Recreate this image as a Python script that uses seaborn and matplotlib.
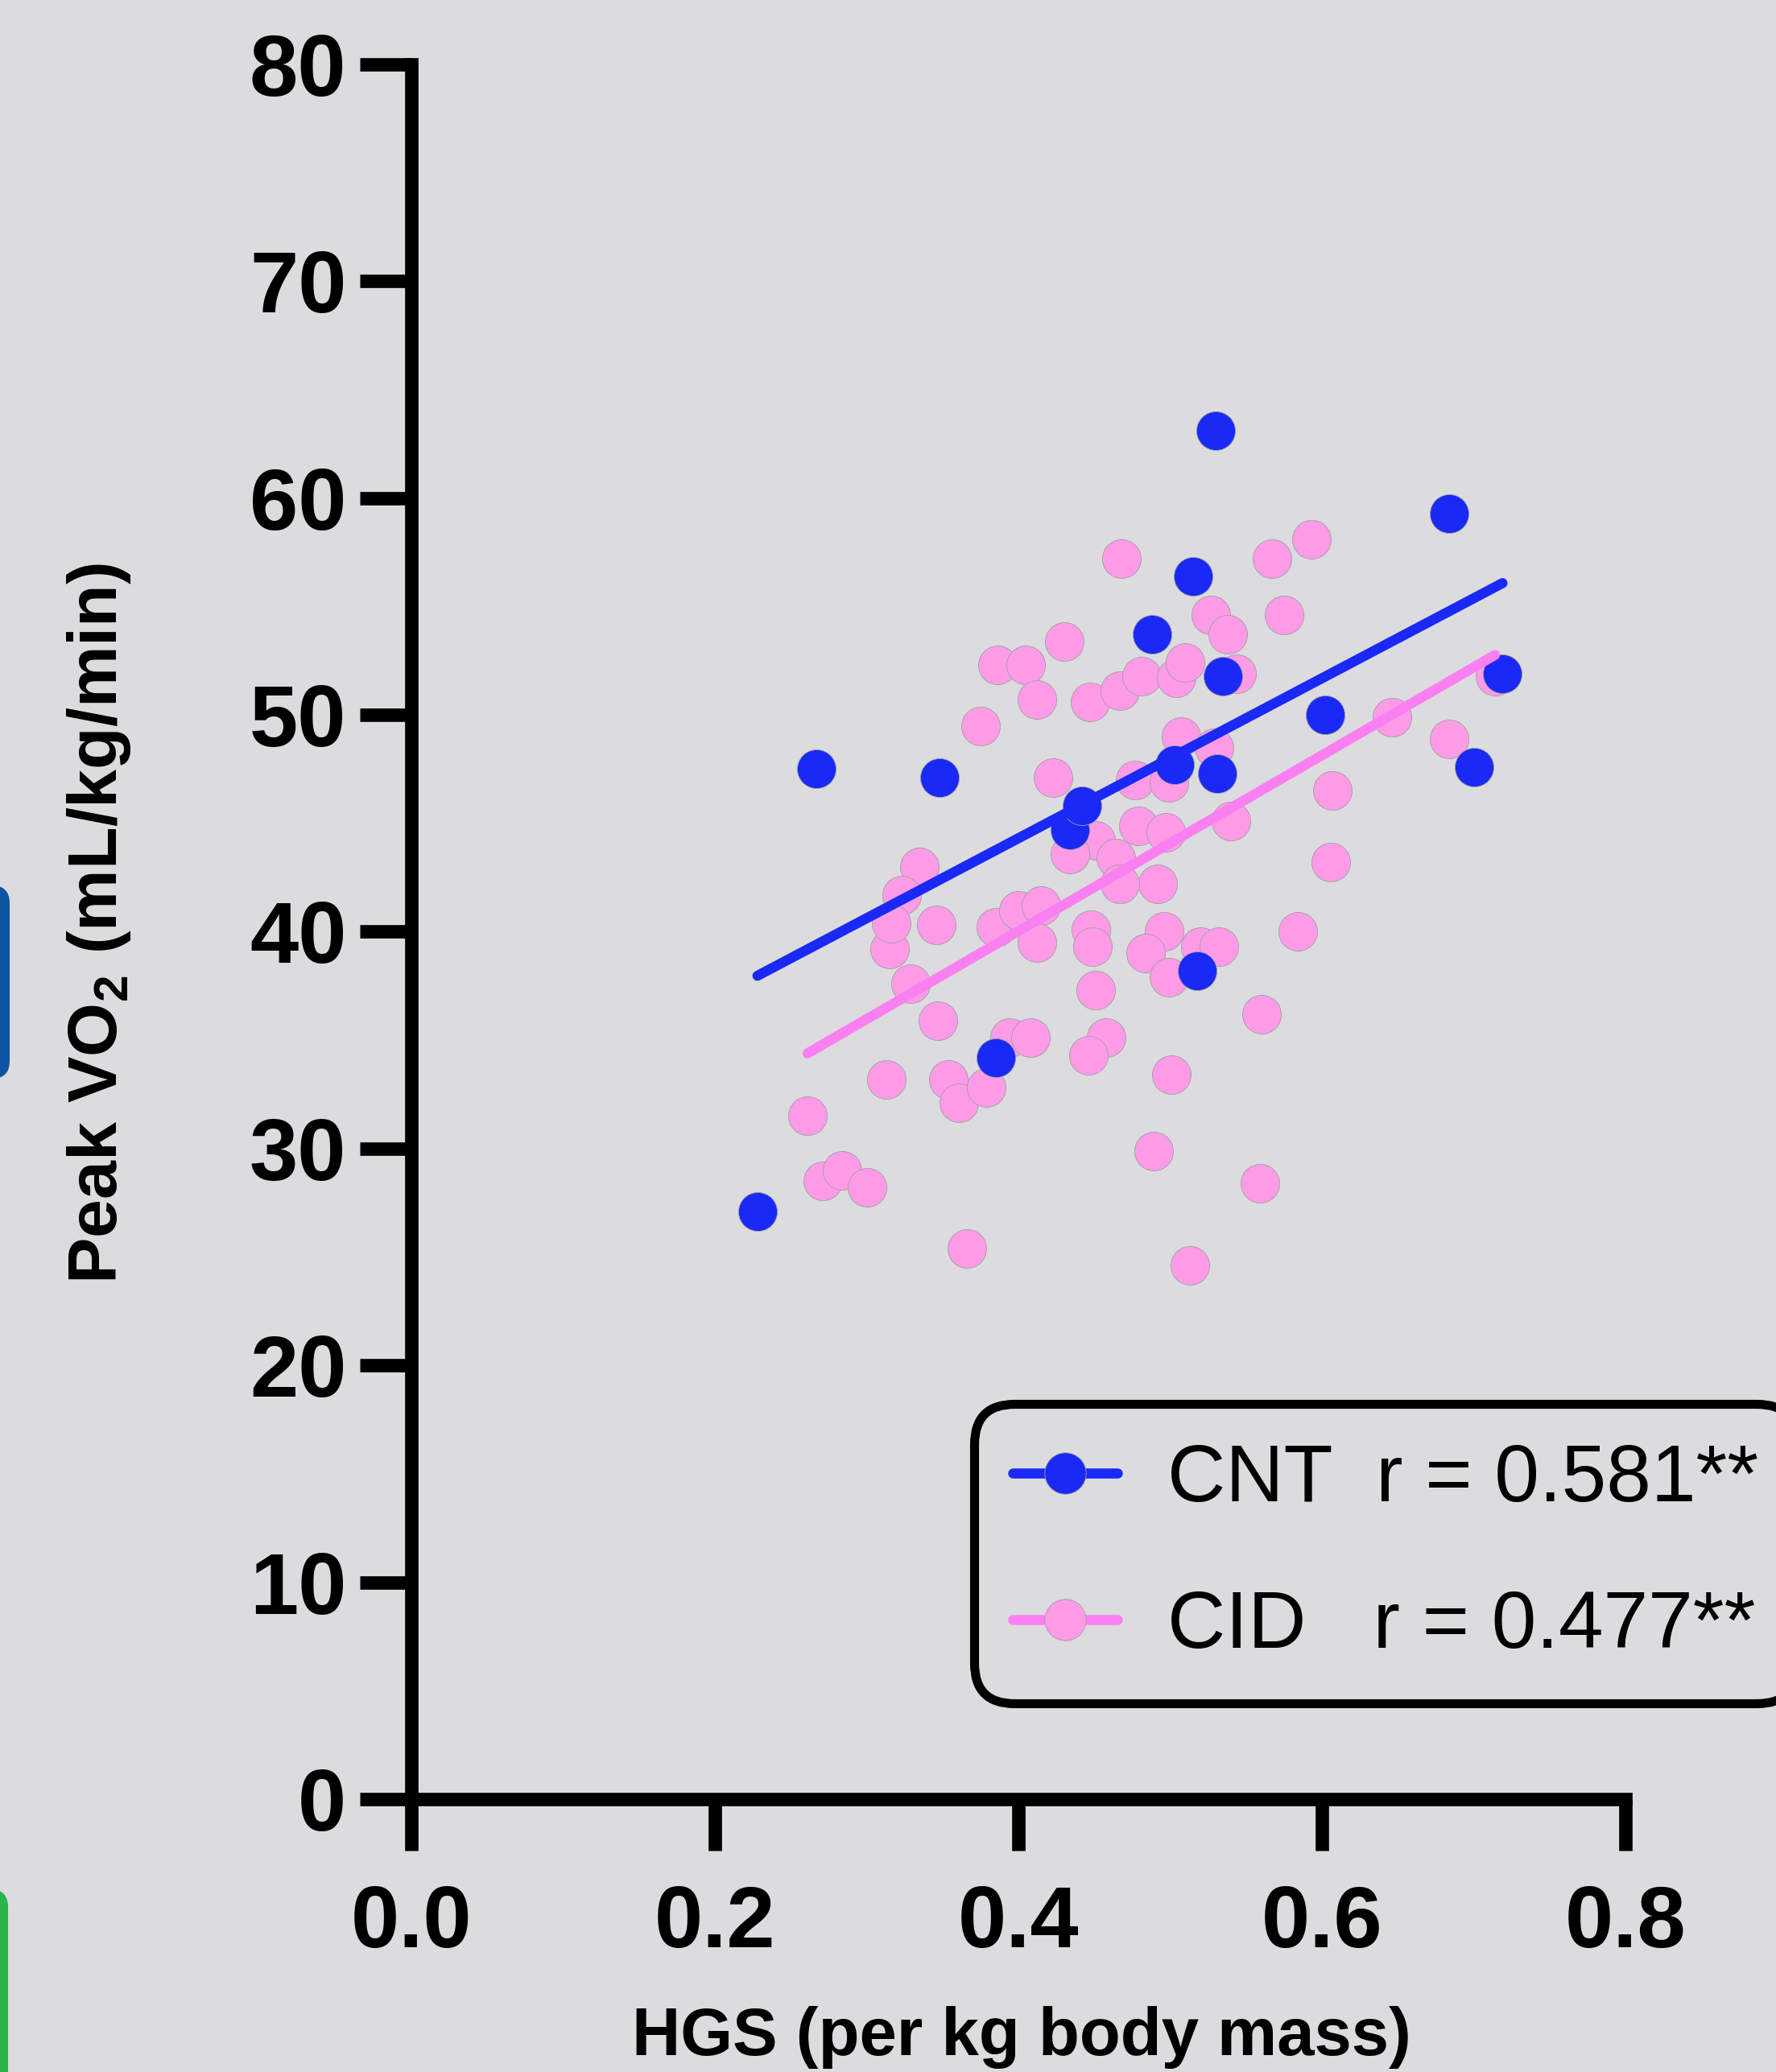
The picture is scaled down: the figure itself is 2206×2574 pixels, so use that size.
import numpy as np
import pandas as pd
import matplotlib
matplotlib.use('Agg')
import matplotlib.pyplot as plt
import seaborn as sns
from matplotlib.lines import Line2D
from matplotlib.patches import FancyBboxPatch
from matplotlib.transforms import IdentityTransform
from matplotlib import font_manager

# ---------------- data ----------------
cnt_hgs = [0.228, 0.267, 0.348, 0.385, 0.434, 0.442, 0.488, 0.503, 0.515,
           0.518, 0.530, 0.531, 0.535, 0.602, 0.684, 0.700, 0.719]
cnt_vo2 = [27.1, 47.5, 47.1, 34.2, 44.7, 45.8, 53.7, 47.7, 56.4,
           38.2, 63.1, 47.3, 51.8, 50.0, 59.3, 47.6, 51.9]

cid_hgs = [0.468, 0.430, 0.386, 0.405, 0.412, 0.375, 0.447, 0.467, 0.481, 0.504,
           0.510, 0.423, 0.477, 0.499, 0.507, 0.529, 0.567, 0.593, 0.575, 0.527,
           0.538, 0.544, 0.646, 0.684, 0.714, 0.607, 0.540, 0.479, 0.497, 0.451,
           0.434, 0.464, 0.606, 0.492, 0.467, 0.496, 0.484, 0.499, 0.520, 0.532,
           0.584, 0.560, 0.501, 0.489, 0.559, 0.513, 0.448, 0.449, 0.451, 0.458,
           0.446, 0.385, 0.400, 0.415, 0.412, 0.335, 0.323, 0.346, 0.315, 0.316,
           0.329, 0.347, 0.313, 0.354, 0.361, 0.379, 0.394, 0.408, 0.261, 0.271,
           0.284, 0.300, 0.366]
cid_vo2 = [57.2, 53.4, 52.3, 52.3, 50.7, 49.5, 50.6, 51.1, 51.8, 51.7,
           52.4, 47.1, 47.0, 46.9, 49.0, 48.5, 57.2, 58.1, 54.6, 54.6,
           53.7, 51.9, 49.9, 48.9, 51.8, 46.5, 45.1, 44.9, 44.6, 44.2,
           43.6, 43.4, 43.2, 42.2, 42.2, 40.0, 39.0, 37.9, 39.3, 39.3,
           40.0, 36.2, 33.4, 29.9, 28.4, 24.6, 40.1, 39.3, 37.3, 35.1,
           34.3, 40.2, 41.0, 41.2, 39.5, 43.0, 41.7, 40.3, 39.2, 40.4,
           37.6, 35.9, 33.2, 33.2, 32.1, 32.8, 35.1, 35.1, 31.5, 28.5,
           29.0, 28.2, 25.4]

group_names = ['CNT', 'CID']
legend_labels = ['CNT  r = 0.581**', 'CID   r = 0.477**']
x_ticks = [0.0, 0.2, 0.4, 0.6, 0.8]
x_tick_labels = ['0.0', '0.2', '0.4', '0.6', '0.8']
y_ticks = [0, 10, 20, 30, 40, 50, 60, 70, 80]
y_tick_labels = ['0', '10', '20', '30', '40', '50', '60', '70', '80']
x_label = 'HGS (per kg body mass)'
y_label = r'Peak VO$_{\mathbf{2}}$ (mL/kg/min)'

df = pd.concat([
    pd.DataFrame({'hgs': cnt_hgs, 'vo2': cnt_vo2, 'group': group_names[0]}),
    pd.DataFrame({'hgs': cid_hgs, 'vo2': cid_vo2, 'group': group_names[1]}),
], ignore_index=True)

# ---------------- style ----------------
BG = '#dcdcde'
BLUE = '#1a29f6'
PINK = '#fe9be7'
PINK_LINE = '#fa80f2'
EDGE = '#9d9da6'

sns.set_theme(style='white')
plt.rcParams['font.family'] = ['Liberation Sans', 'DejaVu Sans']
plt.rcParams['mathtext.fontset'] = 'custom'
plt.rcParams['mathtext.rm'] = 'Liberation Sans'
plt.rcParams['mathtext.bf'] = 'Liberation Sans:bold'
plt.rcParams['text.color'] = 'black'

avail = {f.name for f in font_manager.fontManager.ttflist}
if 'Liberation Sans Narrow' in avail:
    leg_family = ['Liberation Sans Narrow', 'Liberation Sans']
    leg_size = 80
else:
    leg_family = ['Liberation Sans', 'DejaVu Sans']
    leg_size = 72

W, H = 2206, 2574
fig = plt.figure(figsize=(W / 100, H / 100), dpi=100, facecolor=BG)
ax = fig.add_axes([511 / W, 1 - 2235 / H, (2019 - 511) / W, (2235 - 80) / H])
ax.set_facecolor(BG)

# ---------------- marks ----------------
sns.scatterplot(data=df[df.group == 'CID'], x='hgs', y='vo2', color=PINK, s=1200,
                edgecolor=EDGE, linewidth=0.6, zorder=2, ax=ax, legend=False)
sns.scatterplot(data=df[df.group == 'CNT'], x='hgs', y='vo2', color=BLUE, s=1200,
                edgecolor=EDGE, linewidth=0.6, zorder=3, ax=ax, legend=False)
sns.regplot(data=df[df.group == 'CNT'], x='hgs', y='vo2', scatter=False, ci=None,
            truncate=True, color=BLUE, ax=ax,
            line_kws=dict(lw=9, solid_capstyle='round', zorder=4))
sns.regplot(data=df[df.group == 'CID'], x='hgs', y='vo2', scatter=False, ci=None,
            truncate=True, color=PINK_LINE, ax=ax,
            line_kws=dict(lw=9, solid_capstyle='round', zorder=5))

# ---------------- axes ----------------
ax.set_xlim(0, 0.8)
ax.set_ylim(0, 80)
for s in ['top', 'right']:
    ax.spines[s].set_visible(False)
for s in ['left', 'bottom']:
    ax.spines[s].set_linewidth(12)
    ax.spines[s].set_color('black')
    ax.spines[s].set_capstyle('projecting')

ax.set_xticks(x_ticks, labels=x_tick_labels, fontweight='bold', fontsize=78)
ax.set_yticks(y_ticks, labels=y_tick_labels, fontweight='bold', fontsize=78)
ax.tick_params(axis='both', which='major', direction='out', length=46, width=12,
               color='black', labelcolor='black', bottom=True, left=True)
ax.tick_params(axis='x', pad=30)
ax.tick_params(axis='y', pad=12)

ax.set_xlabel(x_label, fontsize=60, fontweight='bold', color='black')
ax.xaxis.label.set_va('baseline')
ax.xaxis.set_label_coords(0.5027, -0.1475)
ax.set_ylabel(y_label, fontsize=62, fontweight='bold', color='black')
ax.yaxis.label.set_va('baseline')
ax.yaxis.set_label_coords(-0.2427, 0.505)

# ---------------- legend ----------------
handles = [
    Line2D([0], [0], color=BLUE, lw=9, solid_capstyle='round', marker='o',
           markersize=37, markerfacecolor=BLUE, markeredgecolor=EDGE, markeredgewidth=0.6),
    Line2D([0], [0], color=PINK_LINE, lw=9, solid_capstyle='round', marker='o',
           markersize=37, markerfacecolor=PINK, markeredgecolor=EDGE, markeredgewidth=0.6),
]
leg = ax.legend(handles, legend_labels, loc='upper left',
                bbox_to_anchor=(1210 / W, 1 - 1744 / H), bbox_transform=fig.transFigure,
                prop={'family': leg_family, 'size': leg_size}, labelcolor='black',
                frameon=True, fancybox=True, edgecolor='black', facecolor=BG,
                framealpha=1, borderpad=0.48, handlelength=1.3, handletextpad=0.62,
                labelspacing=0.88, borderaxespad=0)
leg.get_frame().set_linewidth(8)
leg.get_frame().set_boxstyle('round,pad=0,rounding_size=0.5')

# ---------------- edge fragments of neighbouring panels ----------------
fig.add_artist(FancyBboxPatch((-40, H - 1340), 52, 240,
                              boxstyle='round,pad=0,rounding_size=22',
                              transform=IdentityTransform(), facecolor='#0b55a3',
                              edgecolor='none'))
fig.add_artist(FancyBboxPatch((-40, -40), 50, H - 2347 + 40,
                              boxstyle='round,pad=0,rounding_size=22',
                              transform=IdentityTransform(), facecolor='#2db34a',
                              edgecolor='none'))

fig.savefig('out.png', dpi=100, facecolor=BG)
